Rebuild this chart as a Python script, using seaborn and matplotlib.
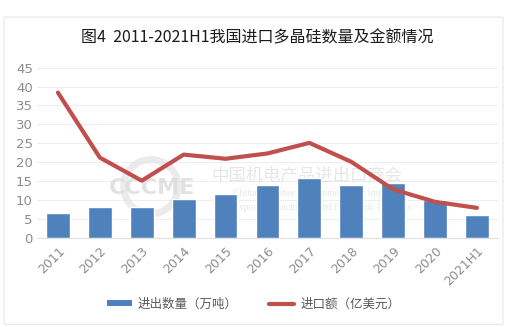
import numpy as np
import pandas as pd
import matplotlib
matplotlib.use("Agg")
import matplotlib.pyplot as plt
from matplotlib.patches import Patch, FancyBboxPatch, Ellipse
from matplotlib.lines import Line2D
import seaborn as sns

years = ["2011", "2012", "2013", "2014", "2015", "2016", "2017", "2018", "2019", "2020", "2021H1"]
quantity = [6.5, 8.1, 8.1, 10.2, 11.6, 13.9, 15.8, 13.9, 14.5, 10.0, 6.0]
amount = [38.4, 21.2, 15.1, 22.0, 20.9, 22.3, 25.1, 20.1, 12.8, 9.5, 7.9]
yticks = [0, 5, 10, 15, 20, 25, 30, 35, 40, 45]

title = "图4  2011-2021H1我国进口多晶硅数量及金额情况"
qty_label = "进出数量（万吨）"
amt_label = "进口额（亿美元）"

BLUE = "#4f81bd"
RED = "#c0504d"
GREY = "#8c8c8c"

sns.set_theme(style="white")
plt.rcParams["font.family"] = ["Noto Sans CJK SC", "DejaVu Sans"]

df = pd.DataFrame({"year": years, "quantity": quantity, "amount": amount})

fig = plt.figure(figsize=(5.07, 3.27), dpi=100)
fig.patch.set_facecolor("white")

# outer frame of the chart area
frame = FancyBboxPatch((0.008, 0.008), 0.984, 0.94, boxstyle="round,pad=0,rounding_size=0.005",
                       transform=fig.transFigure, facecolor="none", edgecolor="#e6e6e6", linewidth=0.8)
fig.patches.append(frame)

ax = fig.add_axes([0.073, 0.273, 0.909, 0.52])

sns.barplot(data=df, x="year", y="quantity", color=BLUE, width=0.57, saturation=1, ax=ax, zorder=2)
sns.lineplot(x=np.arange(len(years)), y=df["amount"], color=RED, linewidth=3.0, ax=ax, zorder=3,
             solid_capstyle="round", solid_joinstyle="round")

ax.set_ylim(0, 45)
ax.set_xlim(-0.5, len(years) - 0.5)
ax.set_yticks(yticks)
ax.set_yticklabels([str(v) for v in yticks], color=GREY, fontsize=9.5, family=["DejaVu Sans"])
ax.set_xticks(range(len(years)))
ax.set_xticklabels(years, rotation=45, ha="right", rotation_mode="anchor", color=GREY, fontsize=9,
                   family=["DejaVu Sans"])
ax.set_xlabel("")
ax.set_ylabel("")
ax.grid(axis="y", color="#eeeeee", linewidth=0.8, zorder=0)
ax.set_axisbelow(True)
for side in ["top", "right", "left"]:
    ax.spines[side].set_visible(False)
ax.spines["bottom"].set_color("#e0e0e0")
ax.spines["bottom"].set_linewidth(0.8)
ax.tick_params(axis="both", length=0, pad=3)
ax.tick_params(axis="x", pad=5)

# faint watermark: ring logo, acronym and association name
ax.add_patch(Ellipse((0.247, 0.30), 0.118, 0.32, transform=ax.transAxes, facecolor="none",
                     edgecolor="#e3e3e3", linewidth=5, alpha=0.7, zorder=1))
ax.text(0.25, 0.29, "CCCME", transform=ax.transAxes, fontsize=16, fontweight="bold",
        color="#d9d9d9", alpha=0.75, ha="center", va="center", zorder=1, family=["DejaVu Sans"])
ax.text(0.586, 0.366, "中国机电产品进出口商会", transform=ax.transAxes, fontsize=12.5,
        color="#dcdcdc", alpha=0.7, ha="center", va="center", zorder=1)
ax.text(0.60, 0.263, "China Chamber of Commerce for Import", transform=ax.transAxes, fontsize=7,
        color="#dedede", alpha=0.7, ha="center", va="center", zorder=1, family=["Liberation Serif"])
ax.text(0.60, 0.18, "and Export of Machinery and Electronic Products", transform=ax.transAxes,
        fontsize=7, color="#dedede", alpha=0.7, ha="center", va="center", zorder=1,
        family=["Liberation Serif"])

fig.text(0.507, 0.885, title, ha="center", va="center", fontsize=11.5, color="#1a1a1a")

handles = [Patch(facecolor=BLUE, edgecolor="none"),
           Line2D([0], [0], color=RED, linewidth=3.0, solid_capstyle="round")]
fig.legend(handles, [qty_label, amt_label], loc="center", bbox_to_anchor=(0.5, 0.07), ncol=2,
           frameon=False, fontsize=9, labelcolor="#595959", handlelength=2.0, handleheight=0.35,
           columnspacing=2.5, handletextpad=0.5)

fig.savefig("out.png", dpi=100, facecolor="white")
